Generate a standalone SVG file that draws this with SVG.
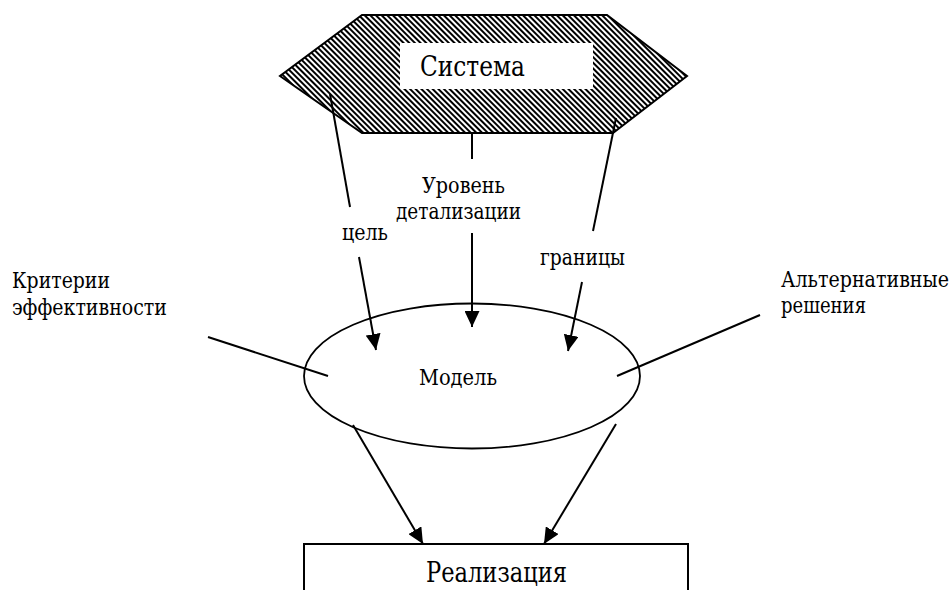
<svg xmlns="http://www.w3.org/2000/svg" width="952" height="590" viewBox="0 0 952 590">
<defs>
<pattern id="hatch" patternUnits="userSpaceOnUse" width="4" height="4" patternTransform="rotate(45)">
<rect x="0" y="0" width="4" height="4" fill="#fff"/>
<rect x="0" y="0" width="4" height="2" fill="#000"/>
</pattern>
<marker id="arr" markerWidth="16" markerHeight="15" refX="16" refY="7.5" orient="auto" markerUnits="userSpaceOnUse">
<path d="M0,0 L16,7.5 L0,15 Z" fill="#000"/>
</marker>
</defs>
<rect width="952" height="590" fill="#fff"/>
<g id="sistema">
<polygon points="362,15 607,15 687,76 613,133 362,133 280,76" fill="url(#hatch)" stroke="#000" stroke-width="2"/>
<rect x="400" y="43" width="193" height="46" fill="#fff"/>
<text x="420" y="76" font-size="27" font-family="'DejaVu Serif', 'Liberation Serif', serif" textLength="105" lengthAdjust="spacingAndGlyphs">Система</text>
</g>
<g id="model">
<ellipse cx="472" cy="376" rx="168" ry="72.5" fill="none" stroke="#000" stroke-width="1.8"/>
<text x="419" y="385" font-size="22" font-family="'DejaVu Serif', 'Liberation Serif', serif" textLength="78" lengthAdjust="spacingAndGlyphs">Модель</text>
</g>
<g id="realizatsiya">
<rect x="304" y="544" width="384" height="80" fill="none" stroke="#000" stroke-width="2"/>
<text x="426" y="582" font-size="27" font-family="'DejaVu Serif', 'Liberation Serif', serif" textLength="141" lengthAdjust="spacingAndGlyphs">Реализация</text>
</g>
<g id="kriterii">
<text x="12" y="288" font-size="22" font-family="'DejaVu Serif', 'Liberation Serif', serif" textLength="98" lengthAdjust="spacingAndGlyphs">Критерии</text>
<text x="12" y="315" font-size="22" font-family="'DejaVu Serif', 'Liberation Serif', serif" textLength="155" lengthAdjust="spacingAndGlyphs">эффективности</text>
</g>
<g id="alternativy">
<text x="781" y="287" font-size="22" font-family="'DejaVu Serif', 'Liberation Serif', serif" textLength="168" lengthAdjust="spacingAndGlyphs">Альтернативные</text>
<text x="781" y="313" font-size="22" font-family="'DejaVu Serif', 'Liberation Serif', serif" textLength="85" lengthAdjust="spacingAndGlyphs">решения</text>
</g>
<g id="labels">
<text x="422" y="193" font-size="22" font-family="'DejaVu Serif', 'Liberation Serif', serif" textLength="83" lengthAdjust="spacingAndGlyphs">Уровень</text>
<text x="396" y="219" font-size="22" font-family="'DejaVu Serif', 'Liberation Serif', serif" textLength="125" lengthAdjust="spacingAndGlyphs">детализации</text>
<text x="342" y="240" font-size="22" font-family="'DejaVu Serif', 'Liberation Serif', serif" textLength="46" lengthAdjust="spacingAndGlyphs">цель</text>
<text x="540" y="265" font-size="22" font-family="'DejaVu Serif', 'Liberation Serif', serif" textLength="85" lengthAdjust="spacingAndGlyphs">границы</text>
</g>
<g id="connectors" stroke="#000" stroke-width="2" fill="none">
<line x1="330" y1="94" x2="350" y2="207"/>
<line x1="359" y1="257" x2="376" y2="350" marker-end="url(#arr)"/>
<line x1="472" y1="133" x2="472" y2="159"/>
<line x1="472" y1="233" x2="472" y2="327" marker-end="url(#arr)"/>
<line x1="616" y1="118" x2="593" y2="231"/>
<line x1="582" y1="282" x2="568" y2="351" marker-end="url(#arr)"/>
<line x1="208" y1="337" x2="328" y2="376"/>
<line x1="760" y1="315" x2="617" y2="376"/>
<line x1="353" y1="425" x2="423" y2="544" marker-end="url(#arr)"/>
<line x1="616" y1="424" x2="544" y2="544" marker-end="url(#arr)"/>
</g>
</svg>
